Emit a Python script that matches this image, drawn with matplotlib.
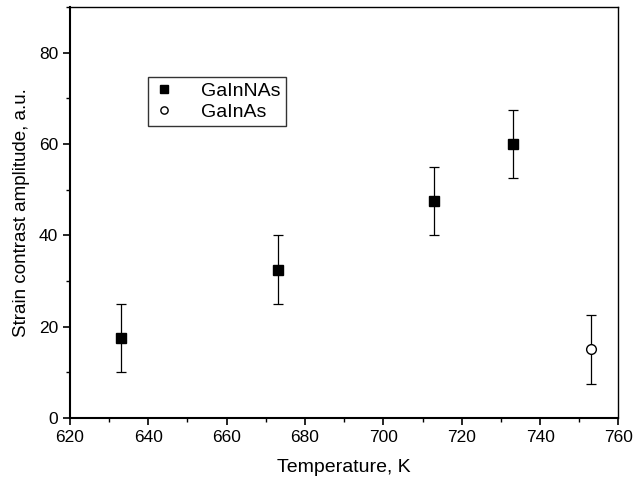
import numpy as np
import matplotlib.pyplot as plt
from matplotlib.ticker import MultipleLocator

plt.rcParams['font.family'] = ['Liberation Sans', 'DejaVu Sans']

# GaInNAs samples
temp_nas = [633, 673, 713, 733]
amp_nas = [17.5, 32.5, 47.5, 60.0]
err_nas = [7.5, 7.5, 7.5, 7.5]

# GaInAs reference
temp_as = [753]
amp_as = [15.0]
err_as = [7.5]

fig = plt.figure(figsize=(6.35, 4.82), dpi=100)
ax = fig.add_axes([0.110, 0.133, 0.864, 0.852])

ax.errorbar(temp_nas, amp_nas, yerr=err_nas, fmt='s', color='black',
            markersize=7, capsize=3.5, elinewidth=0.9, capthick=0.9,
            label='GaInNAs')
ax.errorbar(temp_as, amp_as, yerr=err_as, fmt='o', color='black',
            markerfacecolor='white', markersize=7, capsize=3.5,
            elinewidth=0.9, capthick=0.9, label='GaInAs')

ax.set_xlim(620, 760)
ax.set_ylim(0, 90)
ax.xaxis.set_major_locator(MultipleLocator(20))
ax.xaxis.set_minor_locator(MultipleLocator(10))
ax.yaxis.set_major_locator(MultipleLocator(20))
ax.yaxis.set_minor_locator(MultipleLocator(10))
ax.tick_params(which='major', direction='out', length=5, width=1.2, labelsize=12.5)
ax.tick_params(which='minor', direction='out', length=3, width=1)
for side in ['left', 'bottom']:
    ax.spines[side].set_linewidth(1.5)
for side in ['top', 'right']:
    ax.spines[side].set_linewidth(1.0)

ax.set_xlabel('Temperature, K', fontsize=14, labelpad=10)
ax.set_ylabel('Strain contrast amplitude, a.u.', fontsize=13.5, labelpad=6)

handles, labels = ax.get_legend_handles_labels()
handles = [h[0] for h in handles]
leg = ax.legend(handles, labels, loc='upper left', bbox_to_anchor=(0.142, 0.830),
                borderaxespad=0, fancybox=False, fontsize=14, handlelength=1.2,
                handletextpad=1.3, borderpad=0.25, labelspacing=0.2, markerscale=0.75)
leg.get_frame().set_edgecolor('black')
leg.get_frame().set_linewidth(1.0)

fig.savefig('out.png', dpi=100)
